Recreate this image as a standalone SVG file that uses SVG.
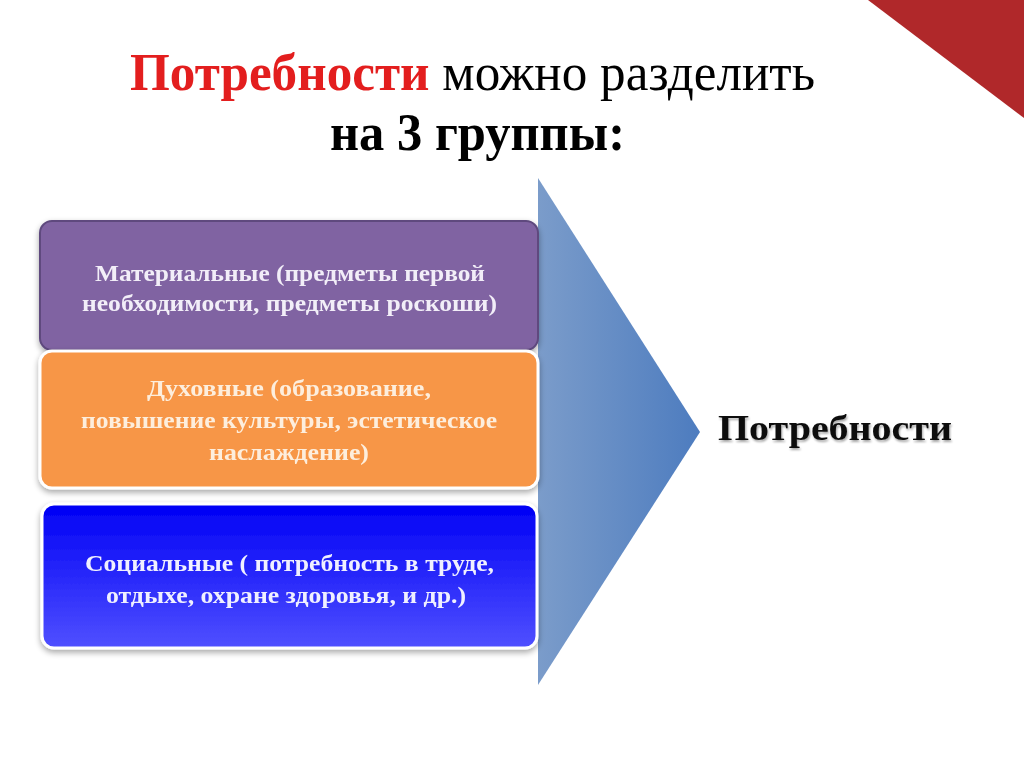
<svg xmlns="http://www.w3.org/2000/svg" width="1024" height="767" viewBox="0 0 1024 767">
<defs>
<linearGradient id="arrowGrad" x1="0" y1="0" x2="1" y2="0">
<stop offset="0" stop-color="#7b9cca"/>
<stop offset="1" stop-color="#4d7cbf"/>
</linearGradient>
<linearGradient id="blueGrad" x1="0" y1="0" x2="0" y2="1">
<stop offset="0" stop-color="#0000f5"/>
<stop offset="1" stop-color="#5050ff"/>
</linearGradient>
<filter id="sh" x="-10%" y="-10%" width="120%" height="130%">
<feGaussianBlur in="SourceAlpha" stdDeviation="3"/>
<feOffset dx="0" dy="3" result="b"/>
<feComponentTransfer><feFuncA type="linear" slope="0.35"/></feComponentTransfer>
<feMerge><feMergeNode/><feMergeNode in="SourceGraphic"/></feMerge>
</filter>
<filter id="tsh" x="-5%" y="-20%" width="110%" height="140%">
<feGaussianBlur in="SourceAlpha" stdDeviation="1"/>
<feOffset dx="1" dy="1.5"/>
<feComponentTransfer><feFuncA type="linear" slope="0.35"/></feComponentTransfer>
<feMerge><feMergeNode/><feMergeNode in="SourceGraphic"/></feMerge>
</filter>
</defs>
<style>
.box{font-family:"Liberation Serif","Times New Roman",serif;font-weight:bold;font-size:23.5px}
.title{font-family:"Liberation Serif","Times New Roman",serif;font-size:53px}
</style>
<rect width="1024" height="767" fill="#ffffff"/>
<polygon points="868,0 1024,0 1024,118" fill="#b0282a"/>
<g id="title">
<text class="title" x="130" y="90" textLength="685" lengthAdjust="spacingAndGlyphs"><tspan font-weight="bold" fill="#e31e1e">Потребности</tspan><tspan fill="#000"> можно разделить</tspan></text>
<text class="title" x="330" y="150" font-weight="bold" fill="#000" textLength="295" lengthAdjust="spacingAndGlyphs">на 3 группы:</text>
</g>
<g id="arrow">
<polygon points="538,178 700,432 538,685" fill="url(#arrowGrad)"/>
</g>
<g id="node-material" filter="url(#sh)">
<rect x="40" y="221" width="498" height="129" rx="12" fill="#8064a2" stroke="#5e4a7e" stroke-width="2"/>
<text class="box" fill="#f2eef8"><tspan x="95" y="281" textLength="390" lengthAdjust="spacingAndGlyphs">Материальные (предметы первой</tspan></text>
<text class="box" fill="#f2eef8"><tspan x="82" y="311" textLength="415" lengthAdjust="spacingAndGlyphs">необходимости, предметы роскоши)</tspan></text>
</g>
<g id="node-spiritual" filter="url(#sh)">
<rect x="40" y="351" width="498" height="137" rx="12" fill="#f79646" stroke="#ffffff" stroke-width="3"/>
<text class="box" fill="#fdeedd"><tspan x="147" y="396" textLength="284" lengthAdjust="spacingAndGlyphs">Духовные (образование,</tspan></text>
<text class="box" fill="#fdeedd"><tspan x="81" y="428" textLength="416" lengthAdjust="spacingAndGlyphs">повышение культуры, эстетическое</tspan></text>
<text class="box" fill="#fdeedd"><tspan x="209" y="460" textLength="160" lengthAdjust="spacingAndGlyphs">наслаждение)</tspan></text>
</g>
<g id="node-social" filter="url(#sh)">
<rect x="42" y="504" width="495" height="144" rx="12" fill="url(#blueGrad)" stroke="#ffffff" stroke-width="3"/>
<text class="box" fill="#f0f0ff"><tspan x="85" y="571" textLength="409" lengthAdjust="spacingAndGlyphs">Социальные ( потребность в труде,</tspan></text>
<text class="box" fill="#f0f0ff"><tspan x="106" y="603" textLength="360" lengthAdjust="spacingAndGlyphs">отдыхе, охране здоровья, и др.)</tspan></text>
</g>
<g id="node-needs">
<text x="718" y="440" filter="url(#tsh)" font-family="Liberation Serif, Times New Roman, serif" font-weight="bold" font-size="35" fill="#111" textLength="234" lengthAdjust="spacingAndGlyphs">Потребности</text>
</g>
<g id="connectors"></g>
</svg>
